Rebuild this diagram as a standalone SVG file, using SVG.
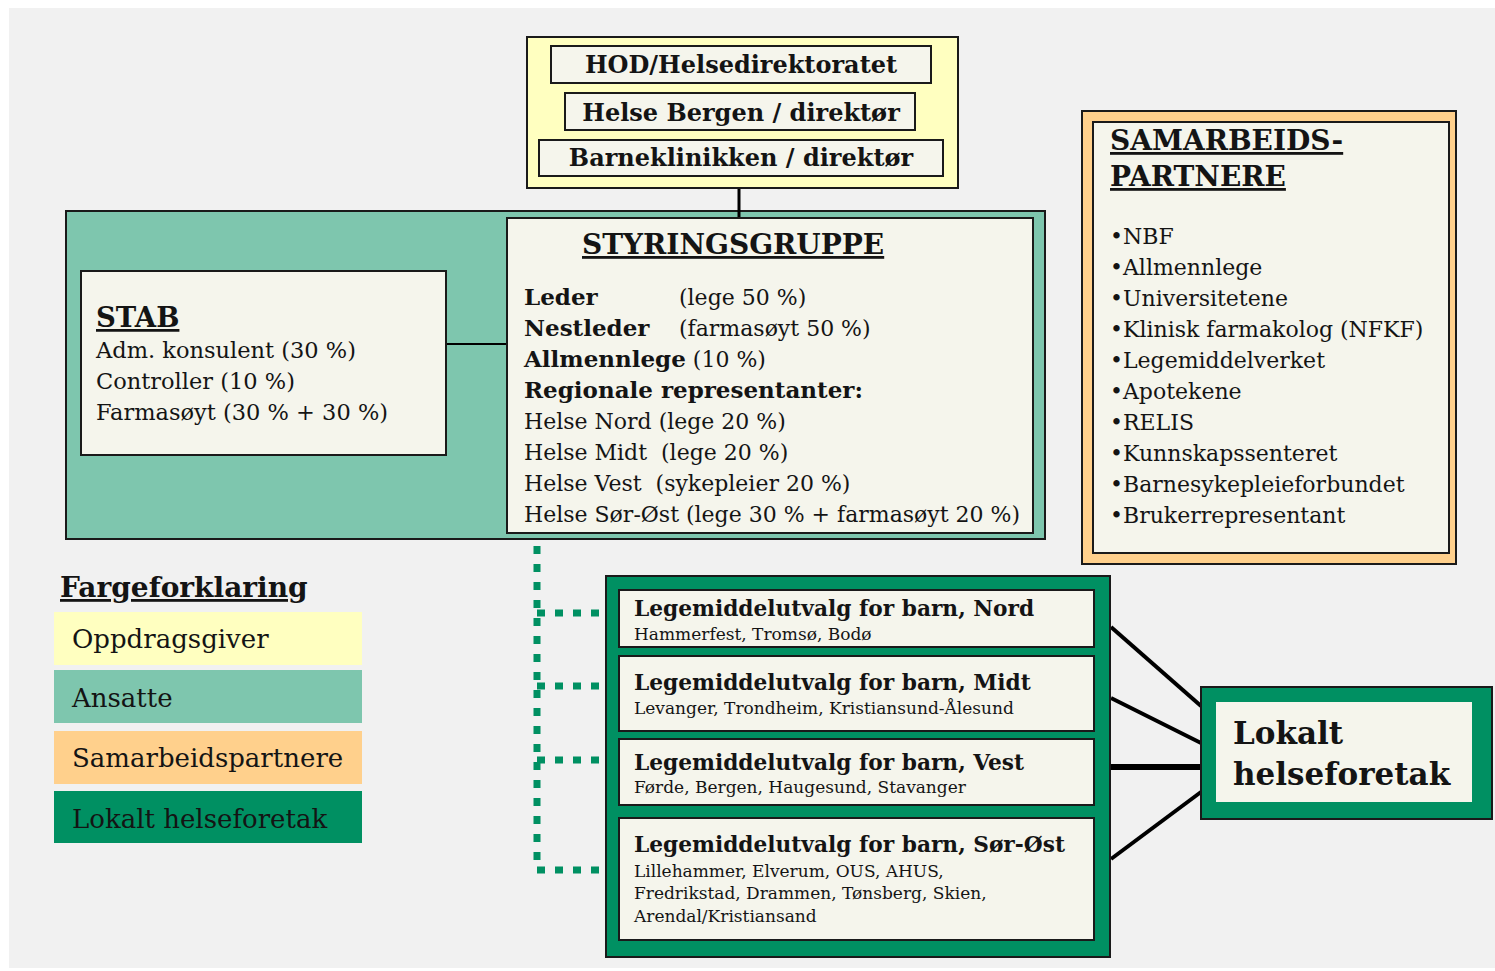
<svg xmlns="http://www.w3.org/2000/svg" width="1495" height="971" viewBox="0 0 1495 971">
<style>
text{font-family:"DejaVu Serif","Liberation Serif",serif;fill:#141414}
.b{font-weight:bold}
.u{text-decoration:underline}
.box{fill:#f5f5ec;stroke:#1a1a1a;stroke-width:2}
.yellow{fill:#ffffc0;stroke:#1a1a1a;stroke-width:2}
.teal{fill:#7ec6ae;stroke:#1a1a1a;stroke-width:2}
.orange{fill:#ffd08c;stroke:#1a1a1a;stroke-width:2}
.green{fill:#009062;stroke:#1a1a1a;stroke-width:2}
.body{font-size:22px}
.bb{font-size:23px;font-weight:bold}
.sub{font-size:17px}
.lmu{font-size:21.7px;font-weight:bold}
.dot{fill:none;stroke:#009062;stroke-width:7;stroke-dasharray:8 10}
.ln{stroke:#000;fill:none}
</style>
<rect x="0" y="0" width="1495" height="971" fill="#ffffff"/>
<rect x="9" y="8" width="1486" height="960" fill="#f1f1f1"/>

<g id="ansatte">
<rect class="teal" x="66" y="211" width="979" height="328"/>
</g>

<g id="connectors">
<line class="ln" x1="739" y1="83" x2="739" y2="93" stroke-width="2"/>
<line class="ln" x1="739" y1="130" x2="739" y2="140" stroke-width="3"/>
<line class="ln" x1="739" y1="176" x2="739" y2="218" stroke-width="3"/>
<line class="ln" x1="446" y1="344" x2="507" y2="344" stroke-width="2"/>
<path class="dot" d="M537,546 V870 H606"/>
<path class="dot" d="M537,613 H606"/>
<path class="dot" d="M537,686 H606"/>
<path class="dot" d="M537,760 H606"/>
<line class="ln" x1="1111" y1="627" x2="1201" y2="706" stroke-width="4"/>
<line class="ln" x1="1111" y1="698" x2="1201" y2="743" stroke-width="4"/>
<line class="ln" x1="1111" y1="767" x2="1201" y2="767" stroke-width="6"/>
<line class="ln" x1="1111" y1="859" x2="1201" y2="792" stroke-width="4"/>
</g>

<g id="oppdragsgiver">
<rect class="yellow" x="527" y="37" width="431" height="151"/>
<g id="hod">
<rect class="box" x="551" y="46" width="380" height="37"/>
<text class="b" x="741" y="73" font-size="24" text-anchor="middle">HOD/Helsedirektoratet</text>
</g>
<g id="helse-bergen">
<rect class="box" x="565" y="93" width="350" height="37"/>
<text class="b" x="741" y="121" font-size="24" text-anchor="middle">Helse Bergen / direktør</text>
</g>
<g id="barneklinikken">
<rect class="box" x="539" y="140" width="404" height="36"/>
<text class="b" x="741" y="166" font-size="24" text-anchor="middle">Barneklinikken / direktør</text>
</g>
</g>

<g id="stab">
<rect class="box" x="81" y="271" width="365" height="184"/>
<text class="b u" x="96" y="327" font-size="27.5">STAB</text>
<text x="96" y="358" font-size="22.5">Adm. konsulent (30 %)</text>
<text x="96" y="389" font-size="22.5">Controller (10 %)</text>
<text x="96" y="420" font-size="22.5">Farmasøyt (30 % + 30 %)</text>
</g>

<g id="styringsgruppe">
<rect class="box" x="507" y="218" width="526" height="315"/>
<text class="b u" x="582" y="254" font-size="28">STYRINGSGRUPPE</text>
<text class="bb" x="524" y="305">Leder</text>
<text class="body" x="679" y="305">(lege 50 %)</text>
<text class="bb" x="524" y="336">Nestleder</text>
<text class="body" x="679" y="336">(farmasøyt 50 %)</text>
<text class="body" x="524" y="367"><tspan class="bb">Allmennlege</tspan> (10 %)</text>
<text class="bb" x="524" y="398">Regionale representanter:</text>
<text class="body" x="524" y="429">Helse Nord (lege 20 %)</text>
<text class="body" x="524" y="460" xml:space="preserve">Helse Midt  (lege 20 %)</text>
<text class="body" x="524" y="491" xml:space="preserve">Helse Vest  (sykepleier 20 %)</text>
<text class="body" x="524" y="522">Helse Sør-Øst (lege 30 % + farmasøyt 20 %)</text>
</g>

<g id="samarbeidspartnere">
<rect class="orange" x="1082" y="111" width="374" height="453"/>
<rect class="box" x="1093" y="122" width="356" height="431"/>
<text class="b u" x="1110" y="150" font-size="28">SAMARBEIDS-</text>
<text class="b u" x="1110" y="186" font-size="28">PARTNERE</text>
<text class="body" x="1110" y="244">•NBF</text>
<text class="body" x="1110" y="275">•Allmennlege</text>
<text class="body" x="1110" y="306">•Universitetene</text>
<text class="body" x="1110" y="337">•Klinisk farmakolog (NFKF)</text>
<text class="body" x="1110" y="368">•Legemiddelverket</text>
<text class="body" x="1110" y="399">•Apotekene</text>
<text class="body" x="1110" y="430">•RELIS</text>
<text class="body" x="1110" y="461">•Kunnskapssenteret</text>
<text class="body" x="1110" y="492">•Barnesykepleieforbundet</text>
<text class="body" x="1110" y="523">•Brukerrepresentant</text>
</g>

<g id="legemiddelutvalg">
<rect class="green" x="606" y="576" width="504" height="381"/>
<g id="lmu-nord">
<rect class="box" x="619" y="590" width="475" height="57"/>
<text class="lmu" x="634" y="616">Legemiddelutvalg for barn, Nord</text>
<text class="sub" x="634" y="640">Hammerfest, Tromsø, Bodø</text>
</g>
<g id="lmu-midt">
<rect class="box" x="619" y="656" width="475" height="75"/>
<text class="lmu" x="634" y="690">Legemiddelutvalg for barn, Midt</text>
<text class="sub" x="634" y="714">Levanger, Trondheim, Kristiansund-Ålesund</text>
</g>
<g id="lmu-vest">
<rect class="box" x="619" y="739" width="475" height="66"/>
<text class="lmu" x="634" y="770">Legemiddelutvalg for barn, Vest</text>
<text class="sub" x="634" y="793">Førde, Bergen, Haugesund, Stavanger</text>
</g>
<g id="lmu-sor-ost">
<rect class="box" x="619" y="818" width="475" height="122"/>
<text class="lmu" x="634" y="852">Legemiddelutvalg for barn, Sør-Øst</text>
<text class="sub" x="634" y="877">Lillehammer, Elverum, OUS, AHUS,</text>
<text class="sub" x="634" y="899">Fredrikstad, Drammen, Tønsberg, Skien,</text>
<text class="sub" x="634" y="922">Arendal/Kristiansand</text>
</g>
</g>

<g id="lokalt-helseforetak">
<rect class="green" x="1201" y="687" width="291" height="132"/>
<rect x="1216" y="702" width="256" height="100" fill="#f5f5ec"/>
<text class="b" x="1233" y="744" font-size="31">Lokalt</text>
<text class="b" x="1233" y="785" font-size="31">helseforetak</text>
</g>

<g id="legend">
<text class="b u" x="60" y="597" font-size="28">Fargeforklaring</text>
<rect x="54" y="612" width="308" height="53" fill="#ffffc0"/>
<text x="72" y="648" font-size="26">Oppdragsgiver</text>
<rect x="54" y="670" width="308" height="53" fill="#7ec6ae"/>
<text x="72" y="707" font-size="26">Ansatte</text>
<rect x="54" y="731" width="308" height="53" fill="#ffd08c"/>
<text x="72" y="767" font-size="26">Samarbeidspartnere</text>
<rect x="54" y="791" width="308" height="52" fill="#009062"/>
<text x="72" y="828" font-size="26">Lokalt helseforetak</text>
</g>
</svg>
